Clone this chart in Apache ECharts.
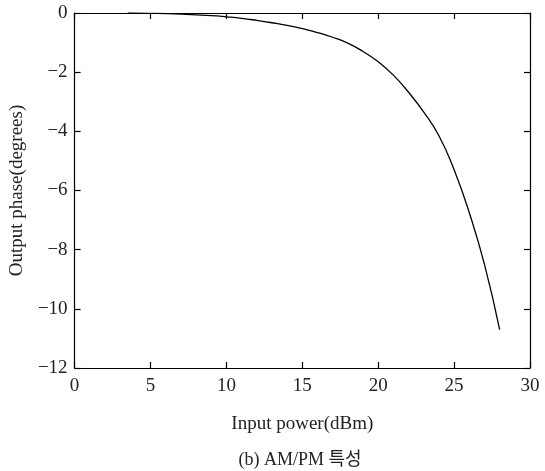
<!DOCTYPE html>
<html>
<head>
<meta charset="utf-8">
<script src="https://cdn.jsdelivr.net/npm/echarts@6/dist/echarts.min.js"></script>
<style>
html,body{margin:0;padding:0;background:#fff;}
#c{width:545px;height:471px;}
</style>
</head>
<body>
<div id="c"></div>
<script>
const inputPower = [3.5, 5, 7, 9, 10, 11, 12, 13, 14, 15, 16, 17, 18, 19, 20, 21, 22, 23, 24, 25, 26, 27, 28];
const outputPhase = [0, -0.01, -0.04, -0.09, -0.13, -0.18, -0.25, -0.33, -0.42, -0.53, -0.66, -0.82, -1.02, -1.30, -1.65, -2.10, -2.68, -3.35, -4.15, -5.30, -6.75, -8.50, -10.70];
const xTicks = [0, 5, 10, 15, 20, 25, 30];
const yTicks = [0, -2, -4, -6, -8, -10, -12];

const FONT = '"Liberation Serif", "DejaVu Serif", "Noto Sans CJK KR", serif';
const fmt = v => (v < 0 ? '\u2212' + Math.abs(v) : String(v));

const chart = echarts.init(document.getElementById('c'), null, {renderer: 'canvas'});
const lineStyle = {color: '#000', width: 1.2};
chart.setOption({
  animation: false,
  backgroundColor: '#fff',
  grid: {left: 72, right: 15, top: 13, bottom: 103, containLabel: false},
  xAxis: [
    {type: 'value', min: xTicks[0], max: xTicks[xTicks.length - 1], interval: 5, position: 'bottom',
     axisLine: {show: true, onZero: false, lineStyle: lineStyle},
     axisTick: {show: true, inside: true, length: 6, lineStyle: lineStyle},
     axisLabel: {color: '#222', fontFamily: FONT, fontSize: 19, margin: 9, formatter: fmt},
     splitLine: {show: false},
     name: 'Input power(dBm)', nameLocation: 'middle', nameGap: 47,
     nameTextStyle: {color: '#222', fontFamily: FONT, fontSize: 19}},
    {type: 'value', min: xTicks[0], max: xTicks[xTicks.length - 1], interval: 5, position: 'top',
     axisLine: {show: true, onZero: false, lineStyle: lineStyle},
     axisTick: {show: true, inside: true, length: 6, lineStyle: lineStyle},
     axisLabel: {show: false}, splitLine: {show: false}}
  ],
  yAxis: [
    {type: 'value', min: yTicks[yTicks.length - 1], max: yTicks[0], interval: 2, position: 'left',
     axisLine: {show: true, onZero: false, lineStyle: lineStyle},
     axisTick: {show: true, inside: true, length: 6, lineStyle: lineStyle},
     axisLabel: {color: '#222', fontFamily: FONT, fontSize: 19, margin: 7, formatter: fmt},
     splitLine: {show: false},
     name: 'Output phase(degrees)', nameLocation: 'middle', nameGap: 42, nameRotate: 90,
     nameTextStyle: {color: '#222', fontFamily: FONT, fontSize: 19}},
    {type: 'value', min: yTicks[yTicks.length - 1], max: yTicks[0], interval: 2, position: 'right',
     axisLine: {show: true, onZero: false, lineStyle: lineStyle},
     axisTick: {show: true, inside: true, length: 6, lineStyle: lineStyle},
     axisLabel: {show: false}, splitLine: {show: false}}
  ],
  graphic: [{
    type: 'text', x: 300, y: 460,
    style: {text: '(b) AM/PM 특성', fill: '#222', font: '18px ' + FONT, align: 'center', verticalAlign: 'middle'}
  }],
  series: [{
    type: 'line', xAxisIndex: 0, yAxisIndex: 0,
    data: inputPower.map((x, i) => [x, outputPhase[i]]),
    smooth: 0.5, showSymbol: false, symbol: 'none',
    lineStyle: {color: '#000', width: 1.3}
  }]
});
</script>
</body>
</html>
